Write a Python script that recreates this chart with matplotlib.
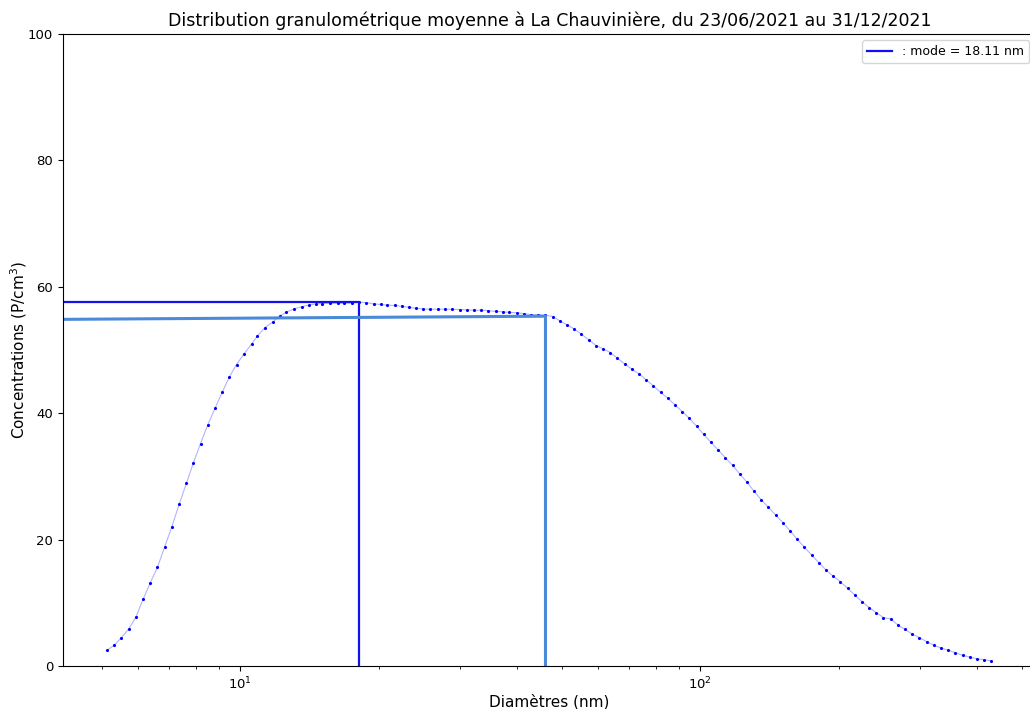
import numpy as np
import matplotlib
matplotlib.use("Agg")
import matplotlib.pyplot as plt

# diametres SMPS (nm), 64 canaux par decade
diametres = [5.14, 5.33, 5.52, 5.73, 5.94, 6.15, 6.38, 6.61, 6.85, 7.10,
             7.37, 7.64, 7.91, 8.20, 8.51, 8.82, 9.14, 9.47, 9.82, 10.2,
             10.6, 10.9, 11.3, 11.8, 12.2, 12.6, 13.1, 13.6, 14.1, 14.6,
             15.1, 15.7, 16.3, 16.8, 17.5, 18.11,
             18.8, 19.5, 20.2, 20.9, 21.7, 22.5, 23.3, 24.1, 25.0, 25.9,
             26.9, 27.9, 28.9, 30.0, 31.1, 32.2, 33.4, 34.6, 35.9, 37.2,
             38.5, 40.0, 41.4, 42.9, 44.5, 46.1,
             47.8, 49.6, 51.4, 53.3, 55.2, 57.3, 59.4, 61.5, 63.8,
             66.1, 68.5, 71.0, 73.7, 76.4, 79.1, 82.0, 85.1, 88.2, 91.4,
             94.7, 98.2, 101.8, 105.5, 109.4, 113.4, 117.6, 121.9, 126.3, 131.0,
             135.8, 140.7, 145.9, 151.2, 156.8, 162.5, 168.5, 174.7, 181.1, 187.7,
             194.6, 201.7, 209.1, 216.7, 224.7, 232.9, 241.4, 250.3, 259.5, 269.0,
             278.8, 289.0, 299.6, 310.6, 322.0, 333.8, 346.0, 358.7, 371.8, 385.4,
             399.5, 414.2, 429.4]

# concentrations moyennes (P/cm3)
concentrations = [2.5, 3.3, 4.5, 5.9, 7.8, 10.55, 13.2, 15.6, 18.8, 22.0,
                  25.6, 28.9, 32.1, 35.2, 38.2, 40.8, 43.3, 45.7, 47.7, 49.4,
                  51.0, 52.2, 53.5, 54.5, 55.4, 56.0, 56.5, 56.85, 57.1, 57.3,
                  57.35, 57.4, 57.4, 57.4, 57.45, 57.55,
                  57.5, 57.3, 57.2, 57.1, 57.05, 56.9, 56.75, 56.6, 56.5, 56.45,
                  56.45, 56.45, 56.45, 56.4, 56.35, 56.3, 56.3, 56.25, 56.1, 56.05,
                  55.95, 55.9, 55.75, 55.6, 55.55, 55.5,
                  55.3, 54.6, 53.95, 53.3, 52.5, 51.6, 50.7, 50.2, 49.6,
                  48.7, 47.8, 47.0, 46.2, 45.25, 44.35, 43.3, 42.35, 41.3, 40.25,
                  39.2, 37.95, 36.65, 35.4, 34.2, 32.95, 31.75, 30.4, 29.1, 27.65,
                  26.3, 25.1, 23.9, 22.7, 21.4, 20.05, 18.8, 17.55, 16.35, 15.2,
                  14.2, 13.35, 12.3, 11.25, 10.2, 9.25, 8.45, 7.65, 7.45, 6.5,
                  5.8, 5.05, 4.5, 3.85, 3.3, 2.85, 2.5, 2.1, 1.7, 1.4,
                  1.15, 1.0, 0.8]

# second mode (epaulement)
mode2_d = 46.1
mode2_y = [54.85, 55.35]

df_d = np.array(diametres)
df_c = np.array(concentrations)
i_mode = int(np.argmax(df_c))
mode_d = df_d[i_mode]
mode_c = df_c[i_mode]

xmin, xmax = 4.12, 536

fig = plt.figure(figsize=(10.30, 7.09), dpi=100)
ax = fig.add_axes([63 / 1030, 43 / 709, 972.6 / 1030, 632 / 709])

ax.plot(df_d, df_c, color='blue', alpha=0.3, linewidth=0.8)
ax.plot(df_d, df_c, '.', color='blue', markersize=2.5)

# mode principal
ax.plot([xmin, mode_d, mode_d], [mode_c, mode_c, 0], color='#1010f0',
        linewidth=1.6, label=': mode = 18.11 nm')
# second mode
ax.plot([xmin, mode2_d, mode2_d], [mode2_y[0], mode2_y[1], 0], color='#4a8ad8',
        linewidth=2.2)

ax.set_xscale('log')
ax.set_xlim(xmin, xmax)
ax.set_ylim(0, 100)
ax.tick_params(labelsize=9.5)

ax.set_title('Distribution granulométrique moyenne à La Chauvinière, du 23/06/2021 au 31/12/2021',
             fontsize=12.5)
ax.set_xlabel('Diamètres (nm)', fontsize=11, labelpad=1)
ax.set_ylabel('Concentrations (P/cm$^3$)', fontsize=11, labelpad=-1)
ax.legend(loc='upper right', fontsize=9)

fig.savefig('out.png', dpi=100)
